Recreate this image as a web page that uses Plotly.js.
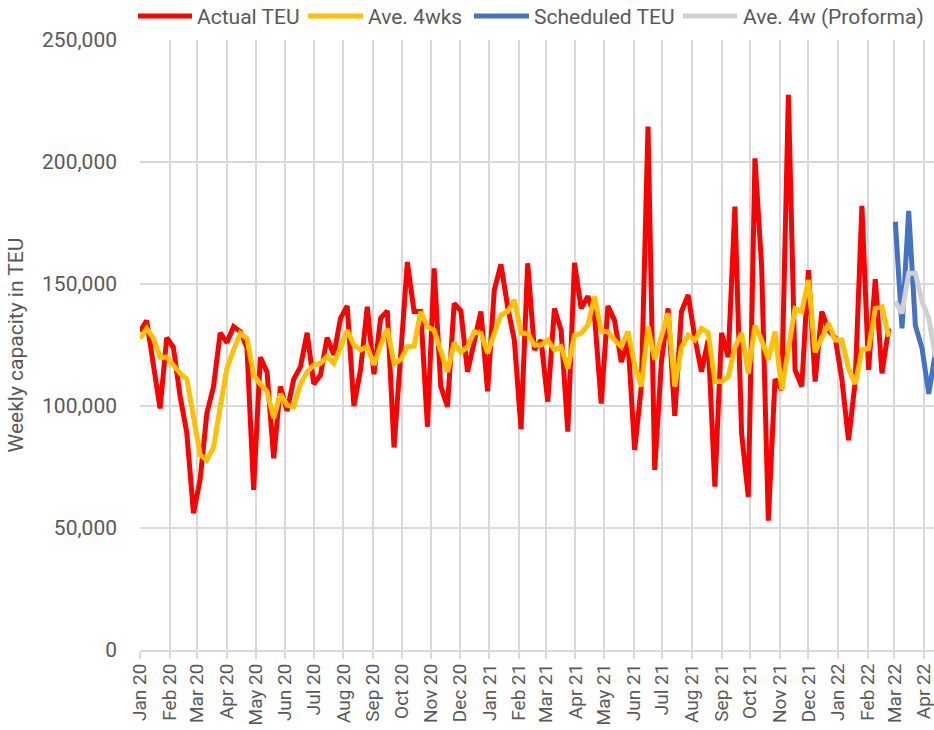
<!DOCTYPE html>
<html>
<head>
<meta charset="utf-8">
<script src="https://cdn.plot.ly/plotly-3.0.1.min.js"></script>
<style>
  html, body { margin: 0; padding: 0; background: #ffffff; }
  #chart { width: 934px; height: 730px; }
</style>
</head>
<body>
<div id="chart"></div>
<script>
// ---- Data (weekly, first week starting 2020-01-01) ----
const startDate = '2020-01-01';

const actualTEU = [
  130500, 135000, 117000, 99000, 128000, 124000, 104000, 89000, 56000, 70000,
  97000, 108000, 130000, 126000, 132500, 130500, 124000, 65600, 120000, 114000,
  78600, 108000, 98000, 111000, 116000, 130000, 109000, 112700, 128000, 121000,
  136000, 141000, 100000, 115000, 140700, 113000, 136000, 139000, 83000, 118000,
  159000, 138700, 138700, 91500, 156400, 108000, 99700, 142000, 139000, 114000,
  127000, 138700, 106000, 147500, 158000, 140700, 127000, 90600, 158500, 123000,
  127000, 101800, 140000, 131000, 89500, 158700, 140000, 145000, 137000, 101000,
  141000, 135000, 118000, 127000, 82000, 108000, 214500, 73800, 118000, 140000,
  96000, 138700, 145500, 128000, 114000, 127000, 67000, 130000, 120000, 181700,
  88800, 62800, 201500, 157000, 53000, 111000, 106600, 227500, 114800, 108000,
  155700, 110000, 138700, 131000, 128000, 111000, 86000, 110000, 182000, 114800,
  152000, 113400, 131800
];

const ave4wks = [
  127700, 131800, 127700, 120000, 120000, 116800, 113400, 111000, 94000, 80000,
  77900, 83000, 99700, 115400, 123000, 129800, 127700, 112700, 109000, 106000,
  95000, 105000, 100400, 99700, 109000, 114000, 116800, 117500, 120500, 117500,
  124000, 131000, 125000, 123000, 124300, 116800, 125000, 131800, 117500, 119000,
  124300, 124600, 138700, 132500, 131000, 123000, 114000, 126000, 122000, 124300,
  130500, 129800, 121600, 129800, 137300, 138700, 143400, 129800, 129800, 125000,
  125000, 127000, 123000, 124300, 115400, 129000, 129800, 133200, 144800, 130500,
  130500, 127000, 124300, 130500, 116800, 108000, 132500, 119000, 128400, 138000,
  108000, 124000, 129000, 127000, 131800, 130000, 110000, 110000, 112000, 124000,
  130000, 113400, 133000, 127000, 119000, 130500, 106600, 124500, 140000, 138700,
  151600, 122000, 127700, 133900, 127000, 127000, 115400, 109000, 123000, 123600,
  140000, 140700, 128400
];

const scheduledTEU = [175500, 131800, 180000, 133000, 123600, 105000, 122000];
const ave4wProforma = [142800, 138000, 154400, 154400, 142800, 136000, 120000];

const seriesNames = ['Actual TEU', 'Ave. 4wks', 'Scheduled TEU', 'Ave. 4w (Proforma)'];
const seriesColors = ['#FF0000', '#FFC000', '#4472C4', '#D0D0D0'];

// weekly date labels
function weekDates(start, n, offset) {
  const out = [];
  const base = new Date(start + 'T00:00:00Z');
  for (let i = 0; i < n; i++) {
    const d = new Date(base.getTime() + (offset + i) * 7 * 86400000);
    out.push(d.toISOString().slice(0, 10));
  }
  return out;
}
const actualDates = weekDates(startDate, actualTEU.length, 0);
const schedDates = weekDates(startDate, scheduledTEU.length, actualTEU.length);

const font = 'Roboto, "Open Sans", Arial, sans-serif';
const textColor = '#595959';
const lw = 5;

const traces = [
  { x: actualDates, y: actualTEU, name: seriesNames[0] },
  { x: actualDates, y: ave4wks, name: seriesNames[1] },
  { x: schedDates, y: scheduledTEU, name: seriesNames[2] },
  { x: schedDates, y: ave4wProforma, name: seriesNames[3] }
].map((t, k) => Object.assign(t, {
  type: 'scatter', mode: 'lines', showlegend: false, hoverinfo: 'skip',
  line: { color: seriesColors[k], width: lw, shape: 'linear' }
}));

// custom legend (line samples + labels) in paper-pixel positions
const legendItems = [
  { x0: 138, x1: 192, tx: 195 },
  { x0: 308, x1: 363, tx: 366 },
  { x0: 474, x1: 529, tx: 532 },
  { x0: 683, x1: 737, tx: 741 }
];
const W = 934, H = 730, ml = 140, mr = 0, mt = 40, mb = 80;
const pw = W - ml - mr, ph = H - mt - mb;
const px = v => (v - ml) / pw;
const py = v => (H - mb - v) / ph;
const legY = 16;

const shapes = legendItems.map((it, k) => ({
  type: 'line', xref: 'paper', yref: 'paper',
  x0: px(it.x0), x1: px(it.x1), y0: py(legY), y1: py(legY),
  line: { color: seriesColors[k], width: 5 }
}));
const annotations = legendItems.map((it, k) => ({
  xref: 'paper', yref: 'paper', x: px(it.tx), y: py(legY + 1),
  xanchor: 'left', yanchor: 'middle', showarrow: false,
  text: seriesNames[k], font: { family: font, size: 21, color: textColor }
}));

const layout = {
  width: W, height: H,
  margin: { l: ml, r: mr, t: mt, b: mb, pad: 0 },
  paper_bgcolor: '#ffffff', plot_bgcolor: '#ffffff',
  font: { family: font, size: 21, color: textColor },
  showlegend: false,
  xaxis: {
    type: 'date',
    range: ['2020-01-01', '2022-04-11 12:00'],
    tick0: '2020-01-01', dtick: 'M1', tickformat: '%b %y',
    tickangle: -90,
    showgrid: true, gridcolor: '#D9D9D9', gridwidth: 2,
    ticks: 'outside', ticklen: 7, tickwidth: 2, tickcolor: '#D9D9D9',
    ticklabelstandoff: -3,
    ticklabeloverflow: 'allow',
    showline: true, linecolor: '#D9D9D9', linewidth: 2,
    zeroline: false, fixedrange: true,
    tickfont: { family: font, size: 19, color: textColor }
  },
  yaxis: {
    range: [0, 250000], dtick: 50000, tick0: 0, tickformat: ',d',
    showgrid: true, gridcolor: '#D9D9D9', gridwidth: 2,
    zeroline: false, showline: false,
    ticks: '', ticklabelstandoff: 22,
    tickfont: { family: font, size: 21, color: textColor },
    title: { text: 'Weekly capacity in TEU', standoff: 12,
             font: { family: font, size: 21, color: textColor } },
    fixedrange: true
  },
  shapes: shapes,
  annotations: annotations
};

Plotly.newPlot('chart', traces, layout, { staticPlot: true, displayModeBar: false });
</script>
</body>
</html>
